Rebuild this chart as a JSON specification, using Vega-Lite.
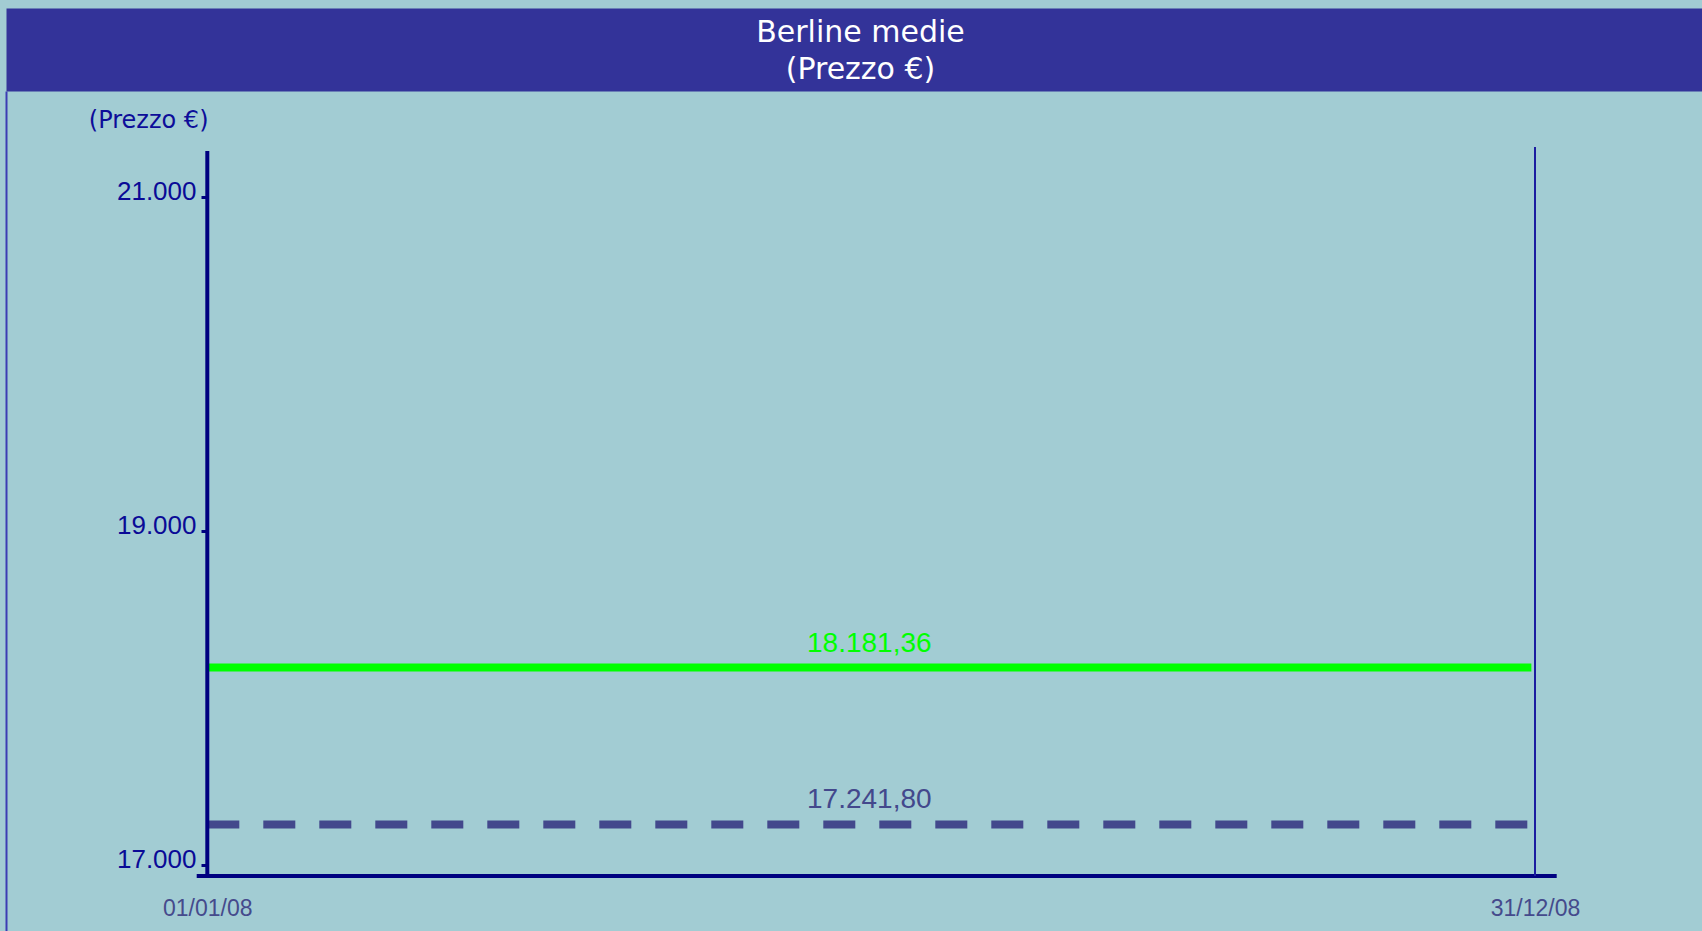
{
  "$schema": "https://vega.github.io/schema/vega-lite/v6.json",
  "width": 1696,
  "height": 840,
  "autosize": {"type": "none"},
  "padding": {"left": 6, "top": 91, "right": 0, "bottom": 0},
  "background": "#a2ccd3",
  "config": {
    "view": {"stroke": null},
    "locale": {"number": {"decimal": ",", "thousands": ".", "grouping": [3], "currency": ["", " €"]}}
  },
  "datasets": {
    "linee": [
      {"serie": "Berline medie", "data": "2008-01-01", "prezzo": 18181.36},
      {"serie": "Berline medie", "data": "2008-12-30", "prezzo": 18181.36},
      {"serie": "Media", "data": "2008-01-01", "prezzo": 17241.80},
      {"serie": "Media", "data": "2008-12-30", "prezzo": 17241.80}
    ],
    "etichette": [
      {"serie": "Berline medie", "data": "2008-07-01", "prezzo": 18181.36},
      {"serie": "Media", "data": "2008-07-01", "prezzo": 17241.80}
    ]
  },
  "resolve": {"axis": {"x": "independent", "y": "independent"}},
  "layer": [
    {
      "data": {"name": "linee"},
      "mark": {"type": "line", "strokeWidth": 8, "strokeCap": "butt"},
      "encoding": {
        "x": {
          "field": "data", "type": "temporal",
          "scale": {"type": "utc", "domain": [
            {"year": 2007, "month": 11, "date": 6, "hours": 15, "minutes": 50, "utc": true},
            {"year": 2009, "month": 2, "date": 14, "hours": 21, "minutes": 50, "utc": true}
          ]},
          "axis": {
            "orient": "bottom", "offset": -55, "domain": false, "ticks": false, "grid": false,
            "values": [
              {"year": 2008, "month": 1, "date": 1, "utc": true},
              {"year": 2008, "month": 12, "date": 31, "utc": true}
            ],
            "labelExpr": "utcFormat(datum.value, '%d/%m/%y')",
            "labelFlush": false, "labelOverlap": false, "labelPadding": 21,
            "labelFont": "Liberation Sans", "labelFontSize": 23, "labelColor": "#454a8c",
            "title": null
          }
        },
        "y": {
          "field": "prezzo", "type": "quantitative",
          "scale": {"domain": [16603.5, 21634.4], "nice": false, "zero": false},
          "axis": {
            "orient": "left", "offset": -201, "domain": false, "grid": false,
            "values": [17000, 19000, 21000], "format": ",.0f",
            "ticks": true, "tickSize": 6, "tickWidth": 3, "tickColor": "#000080",
            "labelPadding": 5, "labelOffset": -5,
            "labelFont": "Liberation Sans", "labelFontSize": 26, "labelColor": "#0a0a96",
            "title": "(Prezzo €)", "titleAngle": 0, "titleAlign": "right", "titleBaseline": "middle",
            "titleX": 1, "titleY": 29,
            "titleFont": "DejaVu Sans", "titleFontSize": 24, "titleFontWeight": "normal", "titleColor": "#0d0d99"
          }
        },
        "color": {
          "field": "serie", "type": "nominal",
          "scale": {"domain": ["Berline medie", "Media"], "range": ["#00ff00", "#43488c"]},
          "legend": null
        },
        "strokeDash": {
          "field": "serie", "type": "nominal",
          "scale": {"domain": ["Berline medie", "Media"], "range": [[1, 0], [32, 24]]},
          "legend": null
        }
      }
    },
    {
      "data": {"name": "etichette"},
      "mark": {"type": "text", "font": "Liberation Sans", "fontSize": 28, "align": "center", "baseline": "middle", "dy": -24},
      "encoding": {
        "x": {
          "field": "data", "type": "temporal",
          "axis": {
            "orient": "top", "offset": 41.5, "domain": true, "domainColor": "#333399", "domainWidth": 83,
            "domainCap": "butt", "ticks": false, "labels": false, "grid": false,
            "title": ["Berline medie", "(Prezzo €)"],
            "titleFont": "DejaVu Sans", "titleFontSize": 30, "titleFontWeight": "normal", "titleColor": "#ffffff",
            "titleLineHeight": 36.6, "titleBaseline": "alphabetic", "titleAlign": "center",
            "titleX": 854, "titleY": -7.8, "titleAngle": 0
          }
        },
        "y": {
          "field": "prezzo", "type": "quantitative",
          "axis": {
            "orient": "left", "offset": 0, "domain": true, "domainColor": "#3c3cb4", "domainWidth": 2,
            "ticks": false, "labels": false, "grid": false, "title": null
          }
        },
        "text": {"field": "prezzo", "type": "quantitative", "format": ",.2f"},
        "color": {"field": "serie", "type": "nominal", "legend": null}
      }
    },
    {
      "data": {"values": [{}]},
      "mark": {"type": "rule", "stroke": "#000080", "strokeWidth": 4, "strokeCap": "butt"},
      "encoding": {
        "x": {"datum": {"year": 2008, "month": 1, "date": 1, "utc": true}, "type": "temporal", "axis": null},
        "y": {"datum": 16932.9, "type": "quantitative", "axis": null},
        "y2": {"datum": 21275}
      }
    },
    {
      "data": {"values": [{}]},
      "mark": {"type": "rule", "stroke": "#000080", "strokeWidth": 4, "strokeCap": "butt"},
      "encoding": {
        "x": {"datum": {"year": 2007, "month": 12, "date": 29, "hours": 2, "minutes": 4, "utc": true}, "type": "temporal", "axis": null},
        "x2": {"datum": {"year": 2009, "month": 1, "date": 5, "hours": 23, "minutes": 11, "utc": true}},
        "y": {"datum": 16932.9, "type": "quantitative", "axis": null}
      }
    },
    {
      "data": {"values": [{}]},
      "mark": {"type": "rule", "stroke": "#1c1ca0", "strokeWidth": 2, "strokeCap": "butt"},
      "encoding": {
        "x": {"datum": {"year": 2008, "month": 12, "date": 31, "utc": true}, "type": "temporal", "axis": null},
        "y": {"datum": 16932.9, "type": "quantitative", "axis": null},
        "y2": {"datum": 21299}
      }
    }
  ]
}
